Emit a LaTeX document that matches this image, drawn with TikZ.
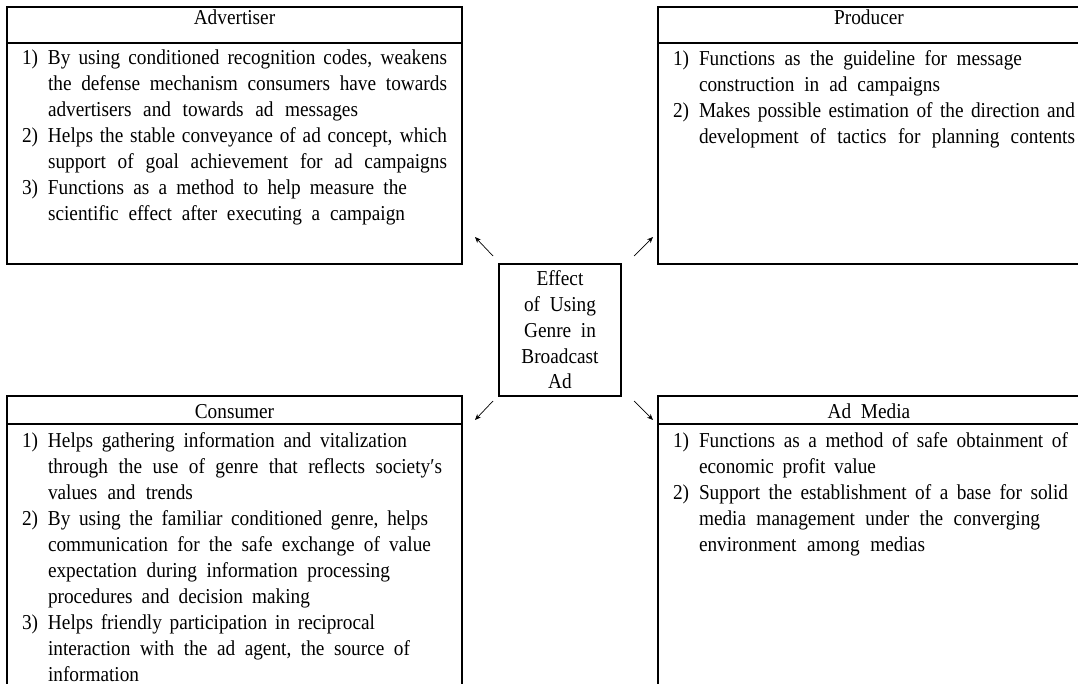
\documentclass[tikz,border=0pt]{standalone}
\usepackage{fontspec}
\usepackage{graphicx}
\setmainfont{Liberation Serif}[WordSpace={2.0,2.0,2.5}]
\usetikzlibrary{arrows.meta}
\newcommand\vs[1]{\scalebox{1}[1.1]{#1}}
\newcommand\itm[1]{\makebox[26pt][l]{#1}}
\newcommand\cnt{\hspace*{26pt}}
\newcommand\fst{\rule{0pt}{15pt}}
\newcommand\jl[2]{\vs{\makebox[#1pt][s]{#2}}}
\begin{document}
\begin{tikzpicture}[x=1pt,y=-1pt,
  every node/.style={inner sep=0pt, outer sep=0pt},
  panel/.style={draw=black, line width=1.1pt, anchor=north west},
  sep/.style={draw=black, line width=1.1pt},
  head/.style={anchor=base, font=\fontsize{19.3}{26}\selectfont},
  body/.style={anchor=north west, align=left, font=\fontsize{19.3}{26}\selectfont},
  centre/.style={draw=black, line width=1.1pt, align=center, minimum width=122pt, minimum height=132pt, font=\fontsize{19.3}{25.75}\selectfont},
  arr/.style={line width=0.7pt, -{Stealth[length=6pt,width=5pt]}}
]
\useasboundingbox (0,0) rectangle (1078,684);
\clip (0,0) rectangle (1078,684);
\fill[white] (0,0) rectangle (1078,684);

% Advertiser
\node[panel, minimum width=455pt, minimum height=257pt] (adv) at (7,7) {};
\draw[sep] ([yshift=-36pt]adv.north west) -- ([yshift=-36pt]adv.north east);
\node[head] (advh) at ([yshift=-18pt]adv.north) {\vs{Advertiser}};
\node[body] (advb) at ([xshift=15pt,yshift=-43pt]adv.north west) {%
\fst\jl{425}{\itm{1)}By using conditioned recognition codes, weakens}\\
\cnt\jl{399}{the defense mechanism consumers have towards}\\
\cnt\jl{310}{advertisers and towards ad messages}\\
\jl{425}{\itm{2)}Helps the stable conveyance of ad concept, which}\\
\cnt\jl{399}{support of goal achievement for ad campaigns}\\
\jl{385}{\itm{3)}Functions as a method to help measure the}\\
\cnt\jl{357}{scientific effect after executing a campaign}};

% Producer
\node[panel, minimum width=422pt, minimum height=257pt] (pro) at (658,7) {};
\draw[sep] ([yshift=-36pt]pro.north west) -- ([yshift=-36pt]pro.north east);
\node[head] (proh) at ([yshift=-18pt]pro.north) {\vs{Producer}};
\node[body] (prob) at ([xshift=15pt,yshift=-44pt]pro.north west) {%
\fst\jl{349}{\itm{1)}Functions as the guideline for message}\\
\cnt\jl{241}{construction in ad campaigns}\\
\jl{402}{\itm{2)}Makes possible estimation of the direction and}\\
\cnt\jl{376}{development of tactics for planning contents}};

% Consumer
\node[panel, minimum width=455pt, minimum height=320pt] (con) at (7,396) {};
\draw[sep] ([yshift=-28pt]con.north west) -- ([yshift=-28pt]con.north east);
\node[head] (conh) at ([yshift=-22pt]con.north) {\vs{Consumer}};
\node[body] (conb) at ([xshift=15pt,yshift=-36pt]con.north west) {%
\fst\jl{385}{\itm{1)}Helps gathering information and vitalization}\\
\cnt\jl{394}{through the use of genre that reflects society′s}\\
\cnt\jl{145}{values and trends}\\
\jl{406}{\itm{2)}By using the familiar conditioned genre, helps}\\
\cnt\jl{383}{communication for the safe exchange of value}\\
\cnt\jl{342}{expectation during information processing}\\
\cnt\jl{262}{procedures and decision making}\\
\jl{353}{\itm{3)}Helps friendly participation in reciprocal}\\
\cnt\jl{362}{interaction with the ad agent, the source of}\\
\cnt\vs{information}};

% Ad Media
\node[panel, minimum width=422pt, minimum height=320pt] (med) at (658,396) {};
\draw[sep] ([yshift=-28pt]med.north west) -- ([yshift=-28pt]med.north east);
\node[head] (medh) at ([yshift=-22pt]med.north) {\vs{Ad Media}};
\node[body] (medb) at ([xshift=15pt,yshift=-36pt]med.north west) {%
\fst\jl{395}{\itm{1)}Functions as a method of safe obtainment of}\\
\cnt\jl{177}{economic profit value}\\
\jl{395}{\itm{2)}Support the establishment of a base for solid}\\
\cnt\jl{341}{media management under the converging}\\
\cnt\jl{226}{environment among medias}};

% Centre
\node[centre] (eff) at (560,330) {\vs{Effect}\\\vs{of Using}\\\vs{Genre in}\\\vs{Broadcast}\\\vs{Ad}};

% Arrows
\coordinate (ulA) at (493,256); \coordinate (ulB) at (475,237);
\coordinate (urA) at (634,256); \coordinate (urB) at (653,237);
\coordinate (llA) at (493,401); \coordinate (llB) at (475,420);
\coordinate (lrA) at (634,401); \coordinate (lrB) at (653,420);
\draw[arr] (ulA) -- (ulB);
\draw[arr] (urA) -- (urB);
\draw[arr] (llA) -- (llB);
\draw[arr] (lrA) -- (lrB);
\end{tikzpicture}
\end{document}
